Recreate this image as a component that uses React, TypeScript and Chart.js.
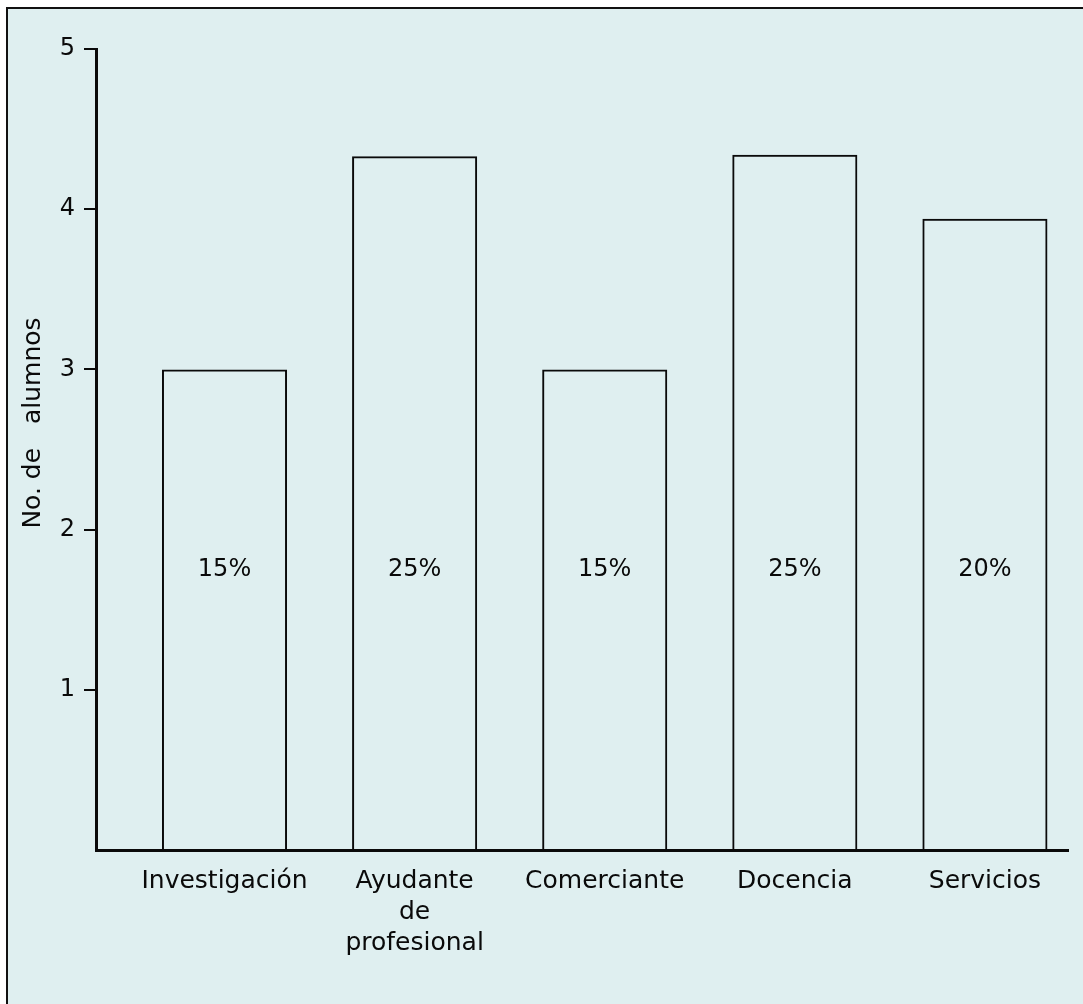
import React, { useEffect, useRef } from "react";
import { Chart, registerables } from "chart.js";

Chart.register(...registerables);

const categories: string[] = [
  "Investigación",
  "Ayudante\nde\nprofesional",
  "Comerciante",
  "Docencia",
  "Servicios",
];
const alumnos: number[] = [3.0, 4.33, 3.0, 4.34, 3.94];
const percentLabels: string[] = ["15%", "25%", "15%", "25%", "20%"];
const percentLevel = 1.75;
const yTicks: number[] = [0, 1, 2, 3, 4, 5];
const yTitle = "No. de   alumnos";

const FONT = "'DejaVu Sans', 'Liberation Sans', sans-serif";

export default function App() {
  const canvasRef = useRef<HTMLCanvasElement | null>(null);

  useEffect(() => {
    if (!canvasRef.current) return;

    const overlay = {
      id: "overlayText",
      afterDatasetsDraw(chart: any) {
        const ctx = chart.ctx;
        const yScale = chart.scales.y;
        const meta = chart.getDatasetMeta(0);
        ctx.save();
        ctx.fillStyle = "#0a0a0a";
        ctx.font = `24px ${FONT}`;
        ctx.textAlign = "center";
        ctx.textBaseline = "middle";
        const py = yScale.getPixelForValue(percentLevel);
        meta.data.forEach((bar: any, i: number) => {
          ctx.fillText(percentLabels[i], bar.x, py);
        });
        // y axis title
        ctx.font = `25px ${FONT}`;
        ctx.translate(33, 423);
        ctx.rotate(-Math.PI / 2);
        ctx.fillText(yTitle, 0, 0);
        ctx.restore();
      },
    };

    const chart = new Chart(canvasRef.current, {
      type: "bar",
      data: {
        datasets: [
          {
            data: categories.map((_, i) => ({ x: i, y: alumnos[i] })),
            backgroundColor: "rgba(0,0,0,0)",
            borderColor: "#0a0a0a",
            borderWidth: 2,
            categoryPercentage: 1,
            barPercentage: 0.658,
          },
        ],
      },
      options: {
        animation: false,
        responsive: true,
        maintainAspectRatio: false,
        layout: { padding: { top: 49, right: 15, left: 0, bottom: 0 } },
        plugins: {
          legend: { display: false },
          tooltip: { enabled: false },
        },
        scales: {
          x: {
            type: "linear",
            offset: false,
            min: -0.676,
            max: 4.437,
            afterFit: (s: any) => {
              s.height = 154;
            },
            afterBuildTicks: (s: any) => {
              s.ticks = categories.map((_, i) => ({ value: i }));
            },
            grid: { display: false, drawTicks: false, offset: false },
            border: { display: true, width: 3, color: "#0a0a0a" },
            ticks: {
              autoSkip: false,
              maxRotation: 0,
              padding: 16,
              color: "#0a0a0a",
              font: { family: FONT, size: 25, lineHeight: 1.24 },
              callback: (v: any) => {
                const label = categories[Math.round(Number(v))];
                return label ? label.split("\n") : "";
              },
            },
          },
          y: {
            min: 0,
            max: 5,
            afterFit: (s: any) => {
              s.width = 96;
            },
            afterBuildTicks: (s: any) => {
              s.ticks = yTicks.map((v) => ({ value: v }));
            },
            grid: {
              display: true,
              drawOnChartArea: false,
              drawTicks: true,
              tickLength: 12,
              lineWidth: 2,
              color: (c: any) => (c.tick && c.tick.value === 0 ? "rgba(0,0,0,0)" : "#0a0a0a"),
            },
            border: { display: true, width: 3, color: "#0a0a0a" },
            ticks: {
              padding: 9,
              color: "#0a0a0a",
              font: { family: FONT, size: 24 },
              callback: (v: any) => (Number(v) === 0 ? "" : String(v)),
            },
          },
        },
      },
      plugins: [overlay],
    });

    return () => chart.destroy();
  }, []);

  return (
    <div
      style={{
        position: "fixed",
        left: 0,
        top: 0,
        width: 1083,
        height: 1004,
        overflow: "hidden",
        background: "#ffffff",
      }}
    >
      <div
        style={{
          position: "absolute",
          left: 6,
          top: 7,
          width: 1200,
          height: 1200,
          borderLeft: "2px solid #111",
          borderTop: "2px solid #111",
          background: "#dfeff0",
        }}
      />
      <div style={{ position: "absolute", left: 0, top: 0, width: 1083, height: 1004 }}>
        <canvas ref={canvasRef} />
      </div>
    </div>
  );
}
